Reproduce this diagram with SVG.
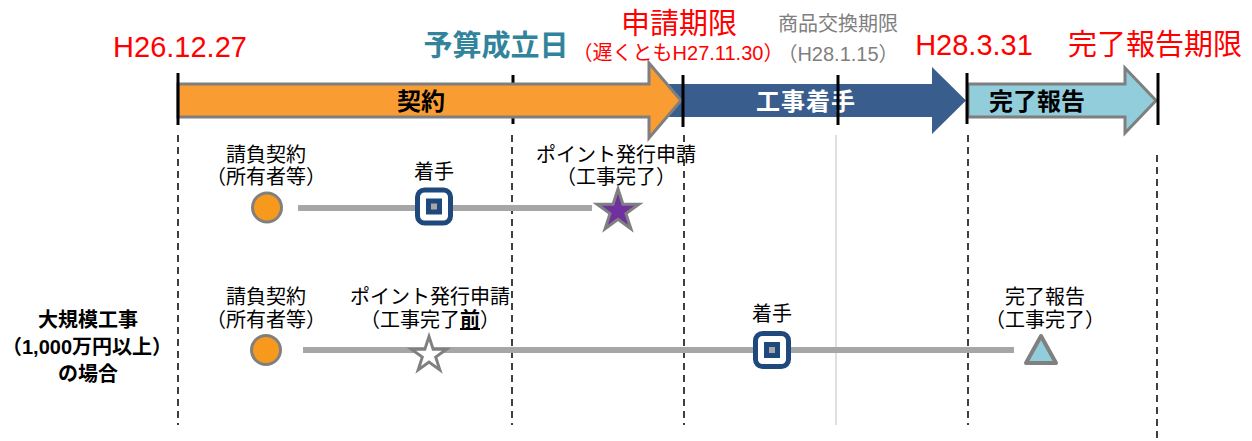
<svg xmlns="http://www.w3.org/2000/svg" width="1252" height="441" viewBox="0 0 1252 441">
<style>
text{font-family:"Liberation Sans","Noto Sans CJK JP",sans-serif;}
.lbl{font-size:20px;fill:#000;text-anchor:middle;}
.big{font-size:29px;text-anchor:middle;}
.red{fill:#FF0000;}
.gry{fill:#7F7F7F;}
.bar{font-size:24px;font-weight:bold;text-anchor:middle;}
.tick{stroke:#000;stroke-width:3;}
.dash{stroke:#000;stroke-width:1.5;stroke-dasharray:7 5;fill:none;}
.tl{stroke:#A6A6A6;stroke-width:6;}
.circ{fill:#F7991C;stroke:#808080;stroke-width:3;}
.sqo{fill:#fff;stroke:#1F497D;stroke-width:5;}
</style>
<defs>
<path id="star" d="M0,-22 L4.94,-6.8 L20.92,-6.8 L7.99,2.6 L12.93,17.8 L0,8.4 L-12.93,17.8 L-7.99,2.6 L-20.92,-6.8 L-4.94,-6.8 Z"/>
<g id="sq">
<rect x="-16.5" y="-16.5" width="33" height="33" rx="7" class="sqo"/>
<rect x="-8" y="-8" width="16" height="16" fill="#1F497D"/>
<rect x="-3" y="-3" width="6" height="6" fill="#A6A6A6"/>
</g>
</defs>

<g id="guides">
<line x1="836" y1="135" x2="836" y2="425" stroke="#BFBFBF" stroke-width="1"/>
<line x1="178" y1="135" x2="178" y2="425" class="dash"/>
<line x1="512" y1="135" x2="512" y2="425" class="dash"/>
<line x1="684" y1="135" x2="684" y2="425" class="dash"/>
<line x1="968" y1="135" x2="968" y2="425" class="dash"/>
<line x1="1157" y1="155" x2="1157" y2="441" class="dash"/>
<line x1="513" y1="75" x2="513" y2="124" class="tick"/>
</g>

<g id="phase-report">
<path d="M968,84 H1125 V68 L1156,100.5 L1125,133 V117 H968 Z" fill="#92CDDC" stroke="#7F7F7F" stroke-width="3"/>
<text x="1037" y="110" class="bar" fill="#000">完了報告</text>
</g>
<g id="phase-work">
<path d="M655,84 H932 V67 L966,100.5 L932,134 V117 H655 Z" fill="#395D8D"/>
<text x="806" y="110" class="bar" fill="#fff" letter-spacing="1">工事着手</text>
</g>
<g id="phase-contract">
<path d="M178,84 H649 V63 L681,100.5 L649,138 V117 H178 Z" fill="#F99D32" stroke="#7F7F7F" stroke-width="3"/>
<text x="421" y="110" class="bar" fill="#000">契約</text>
</g>

<g id="ticks">
<line x1="178" y1="73" x2="178" y2="125" class="tick"/>
<line x1="683" y1="75" x2="683" y2="127" class="tick"/>
<line x1="838" y1="75" x2="838" y2="125" class="tick"/>
<line x1="967" y1="73" x2="967" y2="124" class="tick"/>
<line x1="1158" y1="73" x2="1158" y2="125" class="tick"/>
</g>

<g id="date-labels">
<text x="180" y="57" class="big red">H26.12.27</text>
<text x="496" y="56" class="big" font-size="27" font-weight="bold" fill="#31849B">予算成立日</text>
<text x="679" y="34" class="big red" font-size="27">申請期限</text>
<text x="678" y="60" class="lbl red" font-size="17">（遅くともH27.11.30）</text>
<text x="838" y="31" class="lbl gry" font-size="20">商品交換期限</text>
<text x="838" y="61" class="lbl gry" font-size="18">（H28.1.15）</text>
<text x="974" y="55" class="big red">H28.3.31</text>
<text x="1155" y="55" class="big red">完了報告期限</text>
</g>

<g id="connectors">
<line x1="298" y1="208" x2="592" y2="208" class="tl"/>
<line x1="303" y1="350" x2="1014" y2="350" class="tl"/>
</g>

<g id="row1-contract">
<text x="266" y="162" class="lbl">請負契約</text>
<text x="266" y="184" class="lbl">（所有者等）</text>
<circle cx="267" cy="207.5" r="14.5" class="circ"/>
</g>
<g id="row1-start">
<text x="434" y="179" class="lbl">着手</text>
<use href="#sq" x="434" y="206.5"/>
</g>
<g id="row1-apply">
<text x="616" y="162" class="lbl">ポイント発行申請</text>
<text x="616" y="184" class="lbl">（工事完了）</text>
<use href="#star" transform="translate(618,211)" fill="#7030A0" stroke="#808080" stroke-width="3"/>
</g>

<g id="row2-label">
<text x="88" y="327" class="lbl" font-size="21" font-weight="bold">大規模工事</text>
<text x="87" y="354" class="lbl" font-size="21" font-weight="bold">（1,000万円以上）</text>
<text x="88" y="381" class="lbl" font-size="21" font-weight="bold">の場合</text>
</g>
<g id="row2-contract">
<text x="266" y="304" class="lbl">請負契約</text>
<text x="266" y="327" class="lbl">（所有者等）</text>
<circle cx="266" cy="350" r="14.5" class="circ"/>
</g>
<g id="row2-apply">
<text x="430" y="304" class="lbl">ポイント発行申請</text>
<text x="430" y="327" class="lbl">（工事完了<tspan font-weight="bold" text-decoration="underline">前</tspan>）</text>
<use href="#star" transform="translate(429,355) scale(0.84)" fill="#fff" stroke="#808080" stroke-width="3.5"/>
</g>
<g id="row2-start">
<text x="772" y="321" class="lbl">着手</text>
<use href="#sq" x="772" y="350"/>
</g>
<g id="row2-report">
<text x="1045" y="304" class="lbl">完了報告</text>
<text x="1045" y="327" class="lbl">（工事完了）</text>
<path d="M1041,336 L1056,363 L1026,363 Z" fill="#92CDDC" stroke="#808080" stroke-width="4" stroke-linejoin="round"/>
</g>
</svg>
